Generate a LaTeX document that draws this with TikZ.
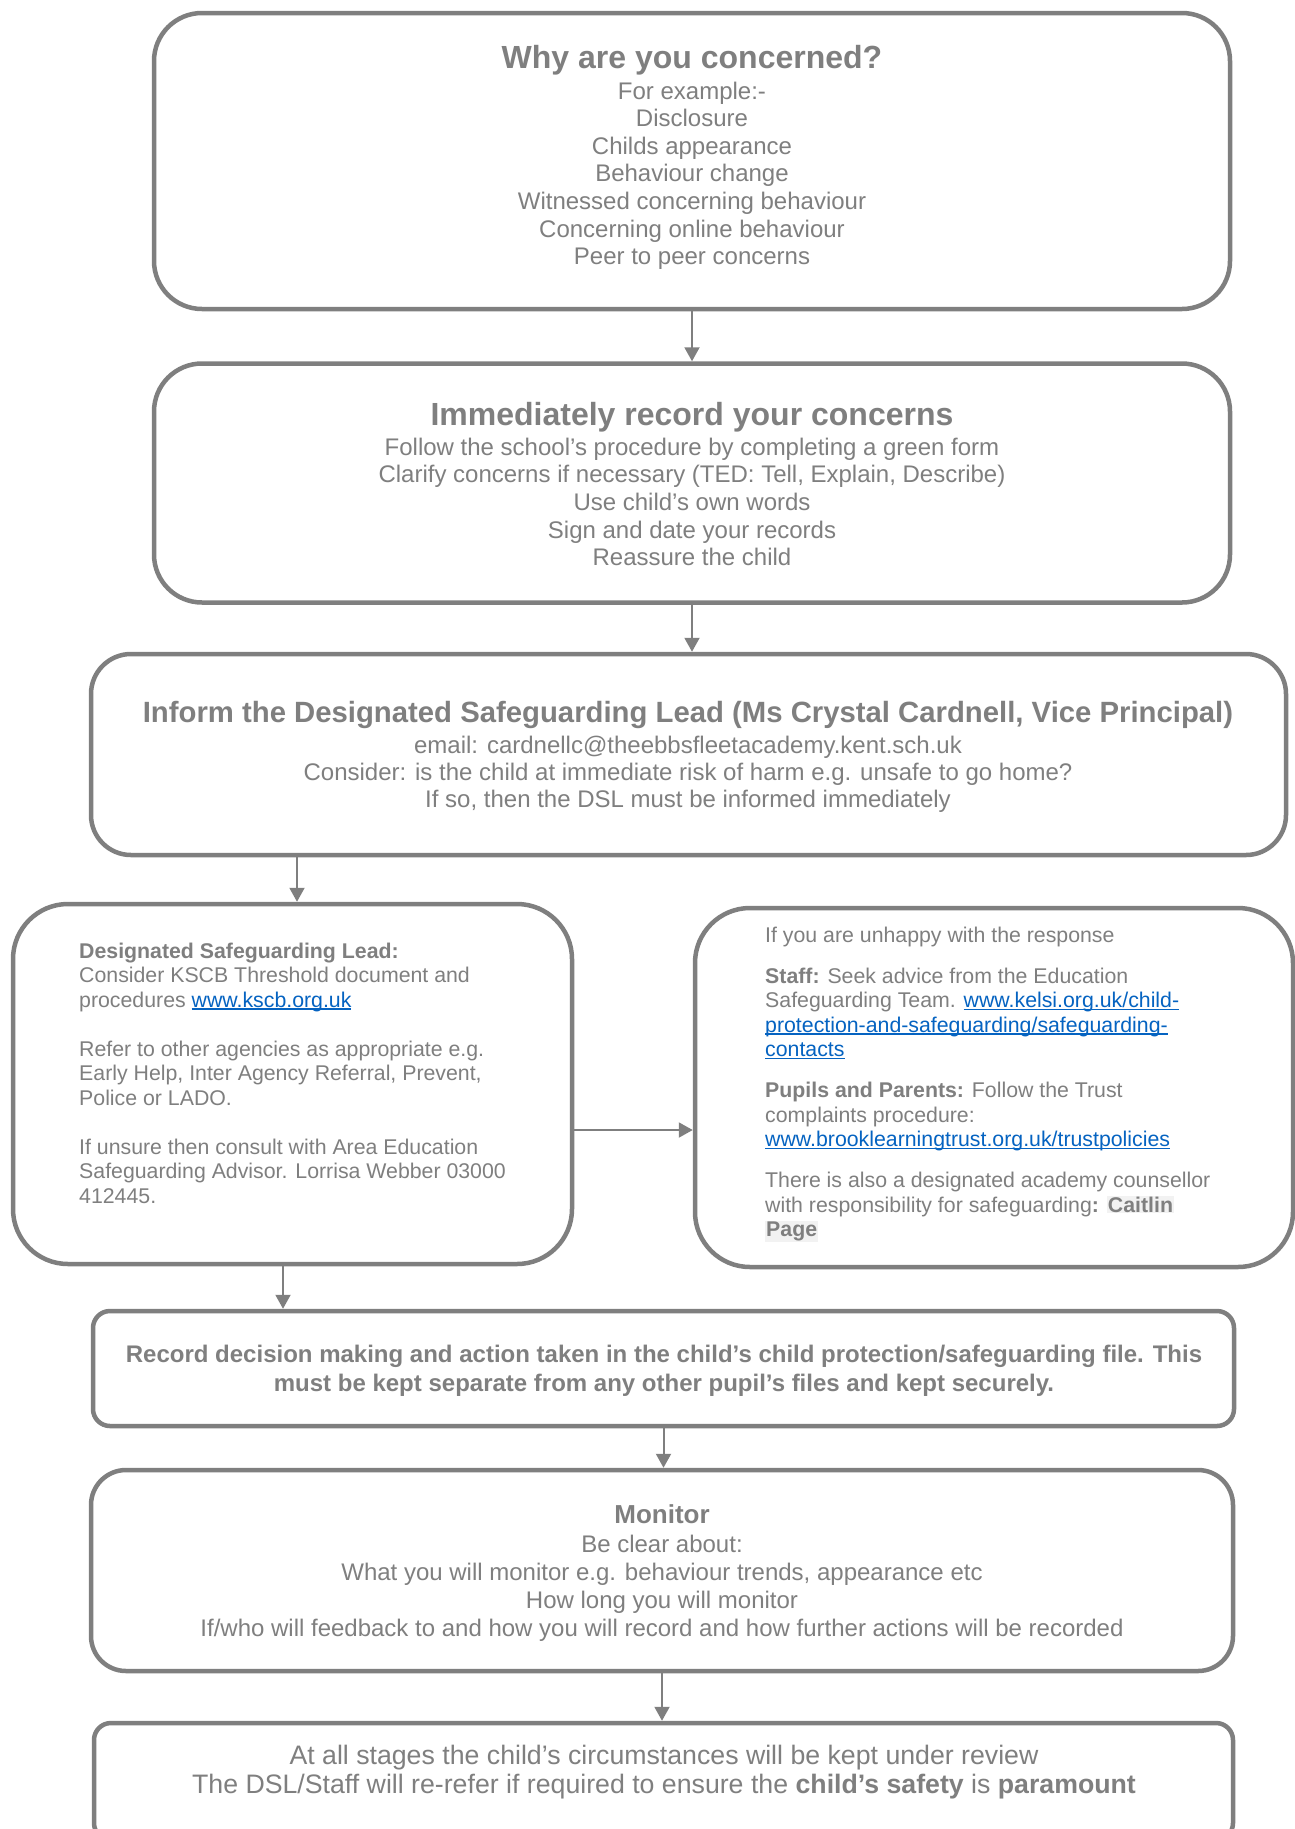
\documentclass[tikz,border=0pt]{standalone}
\usepackage{fontspec}
\setmainfont{Liberation Sans}
\usetikzlibrary{arrows.meta}
\definecolor{fg}{HTML}{7F7F7F}
\definecolor{linkblue}{HTML}{0563C1}
\definecolor{hlgray}{HTML}{F2F2F2}
\newsavebox{\lnkbox}
\newcommand{\lnk}[1]{\sbox{\lnkbox}{\color{linkblue}#1}{\color{linkblue}\rlap{\rule[-2.6pt]{\wd\lnkbox}{1.3pt}}}\usebox{\lnkbox}}
\newcommand{\hlt}[1]{{\setlength{\fboxsep}{1pt}\colorbox{hlgray}{#1}}}
\begin{document}
\begin{tikzpicture}[x=1pt,y=-1pt,
  box/.style={draw=fg, line width=4.5pt, rectangle, inner sep=0pt, fill=white},
  arr/.style={draw=fg, line width=2pt, -{Triangle[length=14pt,width=15pt]}},
  txt/.style={text=fg, inner sep=0pt, anchor=base, align=center},
  ltxt/.style={text=fg, inner sep=0pt, anchor=base west, align=left},
]
\useasboundingbox (0,0) rectangle (1295,1829);
\clip (0,0) rectangle (1295,1829);

% boxes
\node[box, minimum width=1076pt, minimum height=296pt, rounded corners=48pt] (b1) at (692,161) {};
\node[box, minimum width=1076pt, minimum height=239pt, rounded corners=48pt] (b2) at (692,483) {};
\node[box, minimum width=1195pt, minimum height=201pt, rounded corners=40pt] (b3) at (688.5,754.5) {};
\node[box, minimum width=559pt, minimum height=360pt, rounded corners=55pt] (b4) at (292.5,1084) {};
\node[box, minimum width=598pt, minimum height=359pt, rounded corners=55pt] (b5) at (994,1087.5) {};
\node[box, minimum width=1141pt, minimum height=115pt, rounded corners=17pt] (b6) at (663.5,1368.5) {};
\node[box, minimum width=1142pt, minimum height=201pt, rounded corners=35pt] (b7) at (662,1570.5) {};
\node[box, minimum width=1139pt, minimum height=117pt, rounded corners=17pt] (b8) at (663.5,1781.5) {};

% texts (multi-line nodes are anchored at the baseline of their last line)
\node[txt, font=\fontsize{32}{36}\bfseries\selectfont] (t1) at (692,68) {Why are you concerned?};
\node[txt, font=\fontsize{24}{27.6}\selectfont] (t1b) at (692,264.6) {For example:-\\Disclosure\\Childs appearance\\Behaviour change\\Witnessed concerning behaviour\\Concerning online behaviour\\Peer to peer concerns};

\node[txt, font=\fontsize{32}{36}\bfseries\selectfont] (t2) at (692,425) {Immediately record your concerns};
\node[txt, font=\fontsize{24}{27.7}\selectfont] (t2b) at (692,565.8) {Follow the school’s procedure by completing a green form\\Clarify concerns if necessary (TED: Tell, Explain, Describe)\\Use child’s own words\\Sign and date your records\\Reassure the child};

\node[txt, font=\fontsize{29.3}{33}\bfseries\selectfont] (t3) at (688,722) {Inform the Designated Safeguarding Lead (Ms Crystal Cardnell, Vice Principal)};
\node[txt, font=\fontsize{24}{27}\selectfont] (t3b) at (688,807) {email: cardnellc@theebbsfleetacademy.kent.sch.uk\\Consider: is the child at immediate risk of harm e.g. unsafe to go home?\\If so, then the DSL must be informed immediately};

\node[ltxt, font=\fontsize{21.3}{24.5}\selectfont] (t4) at (79,1203) {\textbf{Designated Safeguarding Lead:}\\Consider KSCB Threshold document and\\procedures \lnk{www.kscb.org.uk}\\[24.5pt]Refer to other agencies as appropriate e.g.\\Early Help, Inter Agency Referral, Prevent,\\Police or LADO.\\[24.5pt]If unsure then consult with Area Education\\Safeguarding Advisor. Lorrisa Webber 03000\\412445.};

\node[ltxt, font=\fontsize{21.3}{24.5}\selectfont] (t5) at (765,1236.5) {If you are unhappy with the response\\[16.5pt]\textbf{Staff:} Seek advice from the Education\\Safeguarding Team. \lnk{www.kelsi.org.uk/child-}\\\lnk{protection-and-safeguarding/safeguarding-}\\\lnk{contacts}\\[16.5pt]\textbf{Pupils and Parents:} Follow the Trust\\complaints procedure:\\\lnk{www.brooklearningtrust.org.uk/trustpolicies}\\[16.5pt]There is also a designated academy counsellor\\with responsibility for safeguarding\textbf{: \hlt{Caitlin}}\\\textbf{\hlt{Page}}};

\node[txt, font=\fontsize{24}{29}\bfseries\selectfont] (t6) at (664,1391) {Record decision making and action taken in the child’s child protection/safeguarding file. This\\must be kept separate from any other pupil’s files and kept securely.};

\node[txt, font=\fontsize{26}{30}\bfseries\selectfont] (t7) at (662,1523) {Monitor};
\node[txt, font=\fontsize{24}{27.7}\selectfont] (t7b) at (662,1636) {Be clear about:\\What you will monitor e.g. behaviour trends, appearance etc\\How long you will monitor\\If/who will feedback to and how you will record and how further actions will be recorded};

\node[txt, font=\fontsize{26.7}{29.5}\selectfont] (t8) at (664,1793.5) {At all stages the child’s circumstances will be kept under review\\The DSL/Staff will re-refer if required to ensure the \textbf{child’s safety} is \textbf{paramount}};

% arrows
\draw[arr] (b1.south) -- (b2.north);
\draw[arr] (b2.south) -- (b2.south |- b3.north);
\draw[arr] ([xshift=4.5pt]b4.north |- b3.south) -- ([xshift=4.5pt]b4.north);
\draw[arr] ([yshift=-46pt]b4.east) -- ([yshift=-46pt]b4.east -| b5.west);
\draw[arr] ([xshift=-9.5pt]b4.south) -- ([xshift=-9.5pt]b4.south |- b6.north);
\draw[arr] (b6.south) -- (b6.south |- b7.north);
\draw[arr] (b7.south) -- (b7.south |- b8.north);
\end{tikzpicture}
\end{document}
